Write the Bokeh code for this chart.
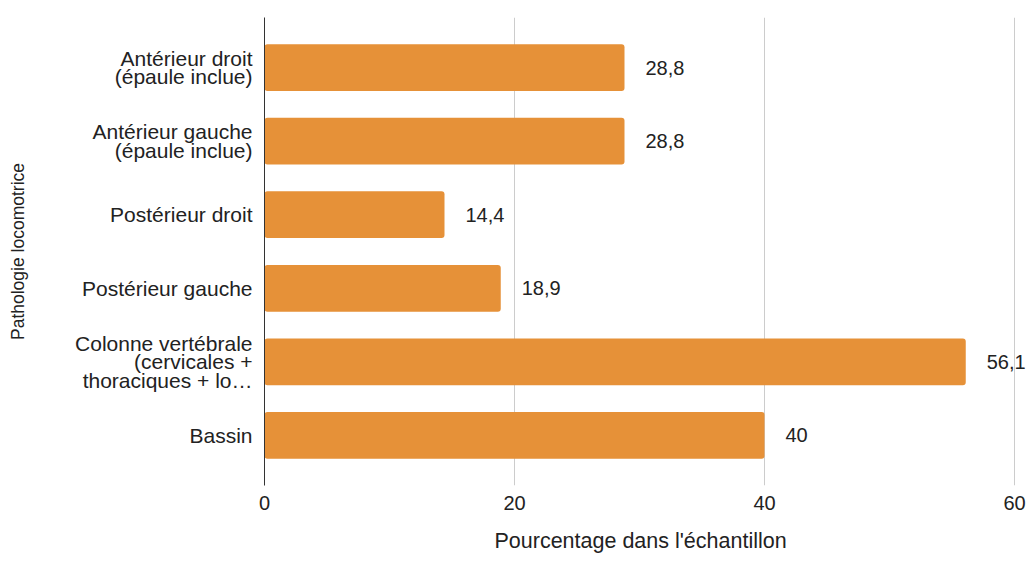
from bokeh.plotting import figure
from bokeh.models import Range1d, FixedTicker, ColumnDataSource, Title
from bokeh.core.properties import value
from bokeh.embed import file_html
from bokeh.resources import INLINE

categories = [
    "Antérieur droit\n(épaule inclue)",
    "Antérieur gauche\n(épaule inclue)",
    "Postérieur droit",
    "Postérieur gauche",
    "Colonne vertébrale\n(cervicales +\nthoraciques + lo…",
    "Bassin",
]
values = [28.8, 28.8, 14.4, 18.9, 56.1, 40]
x_ticks = [0, 20, 40, 60]
x_title = "Pourcentage dans l'échantillon"
y_title = "Pathologie locomotrice"

n = len(categories)
pos = [n - 1 - i for i in range(n)]
labels = [f"{v:g}".replace(".", ",") for v in values]
src = ColumnDataSource(dict(y=pos, v=values, lab=labels))

FONT = "Liberation Sans"
p = figure(width=1028, height=566, output_backend="svg", toolbar_location=None,
           x_range=Range1d(0, 61.12), y_range=Range1d(-0.68, n - 1 + 0.68),
           min_border_left=264, min_border_right=0, min_border_top=17, min_border_bottom=78)
p.outline_line_color = None
p.background_fill_color = "white"
p.border_fill_color = "white"

p.hbar(y="y", right="v", left=0, height=0.635, source=src, fill_color="#E69138",
       line_color=None, border_radius=3)
p.text(x="v", y="y", text="lab", source=src, x_offset=21, text_align="left",
       text_baseline="middle", text_font=value(FONT), text_font_size="20px", text_color="#222222")

# x axis
p.xaxis.ticker = FixedTicker(ticks=x_ticks)
p.xaxis.axis_line_color = None
p.xaxis.major_tick_line_color = None
p.xaxis.minor_tick_line_color = None
p.xaxis.major_label_standoff = 4
p.xaxis.major_label_text_font = FONT
p.xaxis.major_label_text_font_size = "20px"
p.xaxis.major_label_text_color = "#222222"

p.add_layout(Title(text=x_title, align="left", offset=230, standoff=28,
                   text_font=FONT, text_font_size="21.5px", text_font_style="normal",
                   text_color="#222222"), "below")

p.xgrid.grid_line_color = "#cccccc"
p.ygrid.grid_line_color = None

# y axis
p.yaxis.ticker = FixedTicker(ticks=pos)
p.yaxis.major_label_overrides = {pos[i]: categories[i] for i in range(n)}
p.yaxis.axis_line_color = "#333333"
p.yaxis.major_tick_line_color = None
p.yaxis.minor_tick_line_color = None
p.yaxis.major_label_standoff = 6
p.yaxis.major_label_text_font = FONT
p.yaxis.major_label_text_font_size = "21px"
p.yaxis.major_label_text_line_height = 0.82
p.yaxis.major_label_text_color = "#222222"
p.yaxis.axis_label = y_title
p.yaxis.axis_label_text_font = FONT
p.yaxis.axis_label_text_font_size = "17.5px"
p.yaxis.axis_label_text_font_style = "normal"
p.yaxis.axis_label_text_color = "#222222"
p.yaxis.axis_label_standoff = 44

open("out.html", "w").write(file_html(p, INLINE))
